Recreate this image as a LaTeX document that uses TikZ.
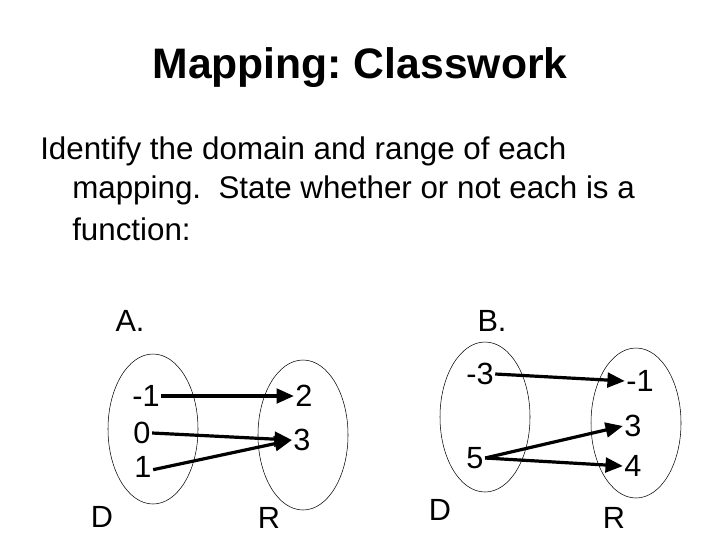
\documentclass[tikz,border=0pt]{standalone}
\usepackage{fontspec}
\setmainfont{Liberation Sans}
\usetikzlibrary{arrows.meta}
\begin{document}
\begin{tikzpicture}[x=0.75pt,y=-0.75pt,
  num/.style={font=\fontsize{23}{27}\selectfont,inner sep=1pt},
  oval/.style={draw,thin},
  arr/.style={line width=2.4pt,-{Triangle[length=13pt,width=11pt]}}]
\useasboundingbox (0,0) rectangle (720,540);
\node (title) at (360,68) {\fontsize{32}{38}\selectfont\bfseries Mapping:~Classwork};
\node[anchor=west,inner sep=0] (l1) at (40,151) {\fontsize{23.5}{28}\selectfont Identify the domain and range of each};
\node[anchor=west,inner sep=0] (l2) at (72,190) {\fontsize{23.5}{28}\selectfont mapping.\ \ State whether or not each is a};
\node[anchor=west,inner sep=0] (l3) at (72,229) {\fontsize{23.5}{28}\selectfont function:};
\node[num] (A) at (130,321) {A.};
\node[num] (B) at (492,321) {B.};
\draw[oval] (153,429) ellipse [x radius=45,y radius=75];
\draw[oval] (303,435) ellipse [x radius=45,y radius=75];
\draw[oval] (485,417) ellipse [x radius=45,y radius=75];
\draw[oval] (636,423) ellipse [x radius=45,y radius=75];
\node[num] (am1) at (146,396) {-1};
\node[num] (a0) at (142,433) {0};
\node[num] (a1) at (143,467) {1};
\node[num] (a2) at (304,396) {2};
\node[num] (a3) at (302,440) {3};
\node[num] (aD) at (102,517) {D};
\node[num] (aR) at (269,518) {R};
\node[num] (bm3) at (480,374) {-3};
\node[num] (b5) at (475,458) {5};
\node[num] (bm1) at (640,381) {-1};
\node[num] (b3) at (633,426) {3};
\node[num] (b4) at (633,466) {4};
\node[num] (bD) at (440,510) {D};
\node[num] (bR) at (614,518) {R};
\draw[arr] (am1.east) -- (a2.west);
\draw[arr] (a0.east) -- (a3.west);
\draw[arr] ([yshift=-2pt]a1.east) -- (a3.west);
\draw[arr] (bm3.east) -- (bm1.west);
\draw[arr] (b5.east) -- (b3.west);
\draw[arr] (b5.east) -- (b4.west);
\end{tikzpicture}
\end{document}
